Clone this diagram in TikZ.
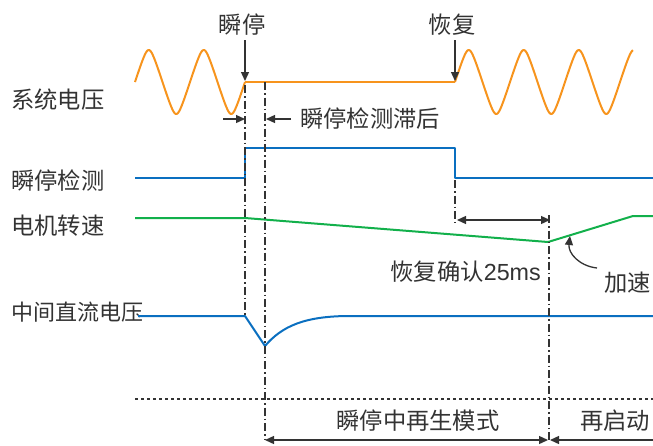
\documentclass[tikz,border=0pt]{standalone}
\usepackage{fontspec}
\setmainfont{Noto Sans CJK SC}
\newfontfamily\latinfont{Liberation Sans}
\usetikzlibrary{arrows.meta}
\definecolor{orangeW}{HTML}{F7941D}
\definecolor{blueW}{HTML}{0A6FC0}
\definecolor{greenW}{HTML}{12B04B}
\definecolor{darkc}{HTML}{333333}
\begin{document}
\begin{tikzpicture}[x=1pt,y=-1pt,
  lbl/.style={font=\fontsize{23.3}{27}\selectfont, text=darkc, inner sep=0pt},
  sig/.style={line width=2pt, line join=round},
  dashdot/.style={line width=1.5pt, draw=darkc, dash pattern=on 8pt off 3pt on 1.5pt off 3pt},
  arr/.style={line width=1.3pt, draw=darkc, -{Triangle[length=9pt,width=8pt]}},
  darr/.style={line width=1.3pt, draw=darkc, {Triangle[length=9pt,width=8pt]}-{Triangle[length=9pt,width=8pt]}},
]
\useasboundingbox (0,0) rectangle (653,445);

% labels
\node[lbl, anchor=west] (l1) at (11,100) {系统电压};
\node[lbl, anchor=west] (l2) at (11,181) {瞬停检测};
\node[lbl, anchor=west] (l3) at (11,226) {电机转速};
\node[lbl, anchor=west, font=\fontsize{22}{26}\selectfont] (l4) at (11,312) {中间直流电压};

% system voltage (rounded triangle wave)
\draw[sig, orangeW] plot[domain=135:245, samples=160] (\x, {82 - 32*asin(0.88*sin((\x-135)*6.5455))/61.64});
\coordinate (v1) at (245,82);
\coordinate (v2) at (455,82);
\draw[sig, orangeW] (v1) -- (v2);
\draw[sig, orangeW] plot[domain=455:633, samples=220] (\x, {82 - 32*asin(0.88*sin((\x-455)*6.5455))/61.64});

% detection
\coordinate (d0) at (135,178);
\coordinate (d1) at (245,178);
\coordinate (d2) at (245,148);
\coordinate (d3) at (455,148);
\coordinate (d4) at (455,178);
\coordinate (d5) at (653,178);
\draw[sig, blueW] (d0) -- (d1) -- (d2) -- (d3) -- (d4) -- (d5);

% motor speed
\coordinate (m0) at (135,218);
\coordinate (m1) at (245,218);
\coordinate (m2) at (548,242);
\coordinate (m3) at (633,216);
\coordinate (m4) at (653,216);
\draw[sig, greenW] (m0) -- (m1) -- (m2) -- (m3) -- (m4);

% DC bus
\coordinate (c0) at (138,316);
\coordinate (c1) at (245,316);
\coordinate (c2) at (265,346);
\coordinate (c3) at (350,316);
\coordinate (c4) at (653,316);
\draw[sig, blueW] (c0) -- (c1) -- (c2) .. controls (282,326) and (305,316) .. (c3) -- (c4);

% dash-dot lines
\coordinate (a1t) at (245,85);
\coordinate (a1b) at (245,316);
\coordinate (a2t) at (265,82);
\coordinate (a2b) at (265,440);
\coordinate (a3t) at (455,180);
\coordinate (a3b) at (455,223);
\coordinate (a4t) at (549,215);
\coordinate (a4b) at (549,440);
\draw[dashdot] (a1t) -- (a1b);
\draw[dashdot] (a2t) -- (a2b);
\draw[dashdot] (a3t) -- (a3b);
\draw[dashdot] (a4t) -- (a4b);

% dotted separator
\coordinate (s0) at (135,399);
\coordinate (s1) at (653,399);
\draw[line width=1.2pt, darkc, dash pattern=on 3pt off 3pt] (s0) -- (s1);

% event arrows
\node[lbl] (ev1) at (242,25) {瞬停};
\coordinate (ev1a) at (245,40);
\coordinate (ev1b) at (245,81);
\draw[arr] (ev1a) -- (ev1b);
\node[lbl] (ev2) at (452,25) {恢复};
\coordinate (ev2a) at (455,40);
\coordinate (ev2b) at (455,81);
\draw[arr] (ev2a) -- (ev2b);

% detection lag
\coordinate (g1) at (223,119);
\coordinate (g2) at (245,119);
\coordinate (g3) at (291,119);
\coordinate (g4) at (266,119);
\draw[arr] (g1) -- (g2);
\draw[arr] (g3) -- (g4);
\node[lbl, anchor=west] (glab) at (300,119) {瞬停检测滞后};

% recovery confirm
\coordinate (r1) at (457,220);
\coordinate (r2) at (550,220);
\draw[darr] (r1) -- (r2);
\node[lbl, anchor=east] (rlab) at (541,272) {恢复确认{\latinfont 25ms}};

% acceleration
\node[lbl, anchor=west] (acc) at (604,283) {加速};
\coordinate (acs) at (597,268);
\coordinate (ace) at (570,236);
\draw[arr] (acs) .. controls (579,266) and (568,253) .. (ace);

% bottom modes
\coordinate (b1) at (265,440);
\coordinate (b2) at (548,440);
\coordinate (b3) at (653,440);
\coordinate (b4) at (550,440);
\draw[darr] (b1) -- (b2);
\draw[arr] (b3) -- (b4);
\node[lbl] (mode1) at (418,421) {瞬停中再生模式};
\node[lbl] (mode2) at (615,421) {再启动};
\end{tikzpicture}
\end{document}
